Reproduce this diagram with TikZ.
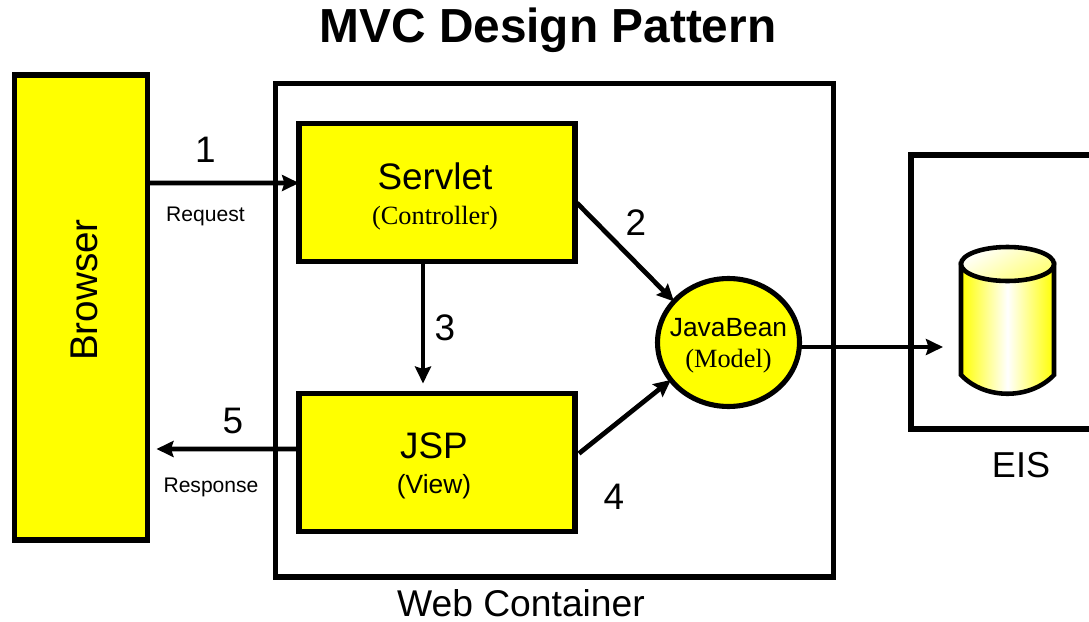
\documentclass[tikz,border=0pt]{standalone}
\usepackage{xcolor}
\usepackage{fontspec}
\setmainfont{Liberation Sans}
\newfontfamily\serifnote{Liberation Serif}
\usetikzlibrary{arrows.meta, shapes.geometric}
\definecolor{boxyellow}{RGB}{255,255,0}
\newcommand{\lowered}[1]{\raisebox{-0.07cm}[\height][\depth]{#1}}

\begin{document}
\begin{tikzpicture}[
        x=0.02cm,
        y=-0.02cm,
        component/.style={rectangle, draw=black, fill=boxyellow, line width=2.9pt, outer sep=0pt, align=center, font=\fontsize{21}{25}\selectfont},
        frame/.style={rectangle, draw=black, line width=2.9pt, outer sep=0pt},
        bean/.style={ellipse, draw=black, fill=boxyellow, line width=2.9pt, outer sep=0pt, minimum width=2.84cm, minimum height=2.56cm, inner xsep=-0.3cm, inner ysep=0pt, align=center, font=\fontsize{15}{18}\selectfont},
        arrow/.style={-{Stealth[length=0.34cm, width=0.32cm, inset=0.05cm]}, line width=2.7pt},
        number/.style={font=\fontsize{21}{25}\selectfont},
        caption/.style={font=\fontsize{12}{14}\selectfont}
    ]
        \useasboundingbox (0,0) rectangle (1089,622);
        \clip (0,0) rectangle (1089,622);

        % ========== CONTAINERS ==========
        \node[frame, minimum width=11.16cm, minimum height=9.88cm] (webContainer) at (554.5,330) {};
        \node[frame, minimum width=4.0cm, minimum height=5.48cm] (eisBox) at (1011,292) {};

        % ========== BROWSER (Left) ==========
        \node[component, minimum width=2.66cm, minimum height=9.3cm] (browser) at (81,307.5) {};
        \node[rotate=90, font=\fontsize{22}{25}\selectfont] (browserText) at (84,290) {Browser};

        % ========== WEB CONTAINER (Center) ==========
        \node[component, minimum width=5.52cm, minimum height=2.76cm] (servlet) at (437,192.5) {\lowered{Servlet\hspace*{0.08cm}}\\[-0.18cm]{\serifnote\fontsize{15}{18}\selectfont\lowered{(Controller)\hspace*{0.08cm}}}};
        \node[component, minimum width=5.52cm, minimum height=2.76cm] (jsp) at (437,462.5) {\lowered{JSP\hspace*{0.12cm}}\\[-0.18cm]{\fontsize{15}{18}\selectfont\lowered{(View)\hspace*{0.12cm}}}};
        \node[bean] (javaBean) at (728.5,342.5) {\lowered{JavaBean}\\[-0.02cm]{\serifnote\lowered{(Model)}}};

        % ========== EIS (Right) ==========
        \coordinate (eisEntry) at (943,347);
        \draw[line width=2.6pt, left color=boxyellow, right color=boxyellow, middle color=white] (961,264) -- (961,375) .. controls (985,400) and (1030,400) .. (1054,375) -- (1054,264) -- cycle;
        \draw[line width=2.6pt, left color=white, right color=boxyellow!55, shading angle=30] (1007.5,264) ellipse (46.5 and 17);

        % ========== ARROWS ==========
        \draw[arrow] (browser.east |- 0,183) -- ([yshift=0.19cm]servlet.west);
        \draw[arrow] ([shift={(0.04cm,-0.21cm)}]servlet.east) -- (javaBean.143);
        \draw[arrow] ([xshift=-0.28cm]servlet.south) -- ([xshift=-0.28cm, yshift=0.2cm]jsp.north);
        \draw[arrow] ([shift={(0.08cm,0.18cm)}]jsp.east) -- (javaBean.213);
        \draw[arrow] ([yshift=0.27cm]jsp.west) -- ([xshift=0.18cm]browser.east |- 0,449);
        \draw[arrow] (javaBean.east |- eisEntry) -- (eisEntry);

        % ========== LABELS ==========
        \node[font=\fontsize{27.2}{32}\selectfont\bfseries] (title) at (548,30) {MVC Design Pattern};
        \node[number] (stepOne) at (205.5,150) {1};
        \node[caption] (request) at (205.5,216) {Request};
        \node[number] (stepTwo) at (636,223) {2};
        \node[number] (stepThree) at (445,328) {3};
        \node[number] (stepFour) at (614,497) {4};
        \node[number] (stepFive) at (233,421) {5};
        \node[caption] (response) at (211,487) {Response};
        \node[font=\fontsize{21.2}{25}\selectfont, inner sep=0pt] (webLabel) at (521,603) {Web Container};
        \node[font=\fontsize{20.5}{24}\selectfont] (eisLabel) at (1021,465) {EIS};

    \end{tikzpicture}
\end{document}
